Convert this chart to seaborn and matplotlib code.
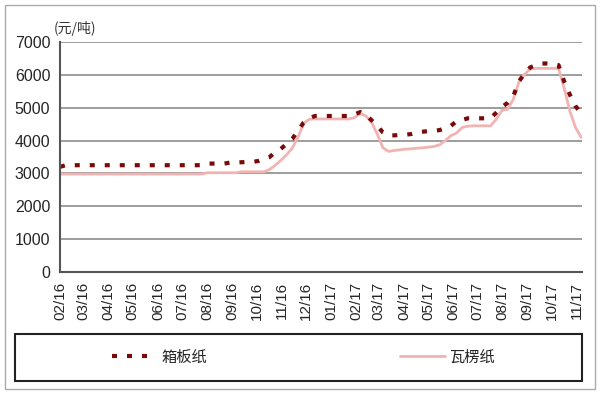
import pandas as pd
import numpy as np
import seaborn as sns
import matplotlib.pyplot as plt
import matplotlib.dates as mdates
from matplotlib.patches import Rectangle

# 周度价格（元/吨），从 2016-02-01 开始
boxboard = [3200] + [3250] * 25 + [
    3300, 3300, 3300, 3300, 3330, 3330, 3340, 3350, 3350, 3380,
    3450, 3500, 3650, 3750, 3900, 4050, 4300, 4550, 4680, 4750,
    4750, 4750, 4750, 4750, 4750, 4750, 4800, 4870, 4780, 4620,
    4450, 4250, 4160, 4160, 4170, 4180, 4200, 4250, 4270, 4290,
    4300, 4320, 4380, 4450, 4590, 4630, 4680, 4680, 4680, 4680,
    4680, 4850, 5020, 5150, 5350, 5800, 6050, 6230, 6300, 6350,
    6350, 6340, 6300, 5800, 5400, 5050, 4830]
corrugated = [2980] * 26 + [
    3020, 3020, 3020, 3020, 3020, 3020, 3050, 3050, 3050, 3050,
    3050, 3120, 3250, 3400, 3570, 3770, 4100, 4520, 4650, 4660,
    4660, 4660, 4660, 4660, 4660, 4660, 4700, 4830, 4750, 4560,
    4200, 3780, 3670, 3700, 3720, 3740, 3750, 3770, 3780, 3800,
    3820, 3870, 4000, 4150, 4230, 4400, 4440, 4450, 4450, 4450,
    4450, 4650, 4920, 4950, 5250, 5780, 6020, 6180, 6200, 6200,
    6200, 6200, 6200, 5600, 4900, 4400, 4100]
dates = pd.date_range('2016-02-01', periods=len(boxboard), freq='7D')
yticks = [0, 1000, 2000, 3000, 4000, 5000, 6000, 7000]

df = pd.DataFrame({'date': dates, '箱板纸': boxboard, '瓦楞纸': corrugated})

sns.set_style('white')
plt.rcParams['font.family'] = ['Liberation Sans', 'Noto Sans CJK SC', 'DejaVu Sans']

fig = plt.figure(figsize=(6, 3.94), dpi=100)
ax = fig.add_axes([0.10, 0.31, 0.87, 0.583])

sns.lineplot(data=df, x='date', y='瓦楞纸', ax=ax, color='#f2b3b3', lw=2, label='瓦楞纸')
sns.lineplot(data=df, x='date', y='箱板纸', ax=ax, color='#7a0a0a', lw=3, label='箱板纸')
ax.lines[1].set_dashes((1.2, 2.4))

ax.set_ylim(0, 7000)
ax.set_yticks(yticks)
ax.set_xlim(pd.Timestamp('2016-02-01'), pd.Timestamp('2017-11-07'))
ax.xaxis.set_major_locator(mdates.MonthLocator())
ax.xaxis.set_major_formatter(mdates.DateFormatter('%m/%y'))
ax.tick_params(axis='x', rotation=90, labelsize=11, length=4, width=1, color='#555555', pad=3, direction='out')
ax.tick_params(axis='y', labelsize=11.5, length=4, width=1, color='#555555', pad=3, direction='out')
ax.set_xlabel('')
ax.set_ylabel('')
ax.grid(axis='y', color='#8c8c8c', lw=1.2)
for s in ['top', 'right']:
    ax.spines[s].set_visible(False)
for s in ['left', 'bottom']:
    ax.spines[s].set_color('#555555')
    ax.spines[s].set_linewidth(1.5)

ax.text(-0.012, 1.025, '(元/吨)', transform=ax.transAxes, fontsize=10,
        family=['Noto Sans CJK SC', 'DejaVu Sans'], ha='left', va='bottom', color='#333333')

ax.get_legend().remove()
handles, labels = ax.get_legend_handles_labels()
order = [1, 0]
leg = fig.legend([handles[i] for i in order], [labels[i] for i in order],
                 loc='center', bbox_to_anchor=(0.506, 0.094), ncol=2,
                 columnspacing=12.6, handlelength=2.95, handletextpad=0.3,
                 frameon=False, prop={'family': ['Noto Sans CJK SC', 'DejaVu Sans'], 'size': 11})

fig.patches.append(Rectangle((0.025, 0.033), 0.945, 0.119, transform=fig.transFigure,
                             fill=False, edgecolor='#222222', lw=1.5))
fig.patches.append(Rectangle((0.0083, 0.0127), 0.983, 0.974, transform=fig.transFigure,
                             fill=False, edgecolor='#aaaaaa', lw=1))

fig.savefig('out.png', dpi=100)
